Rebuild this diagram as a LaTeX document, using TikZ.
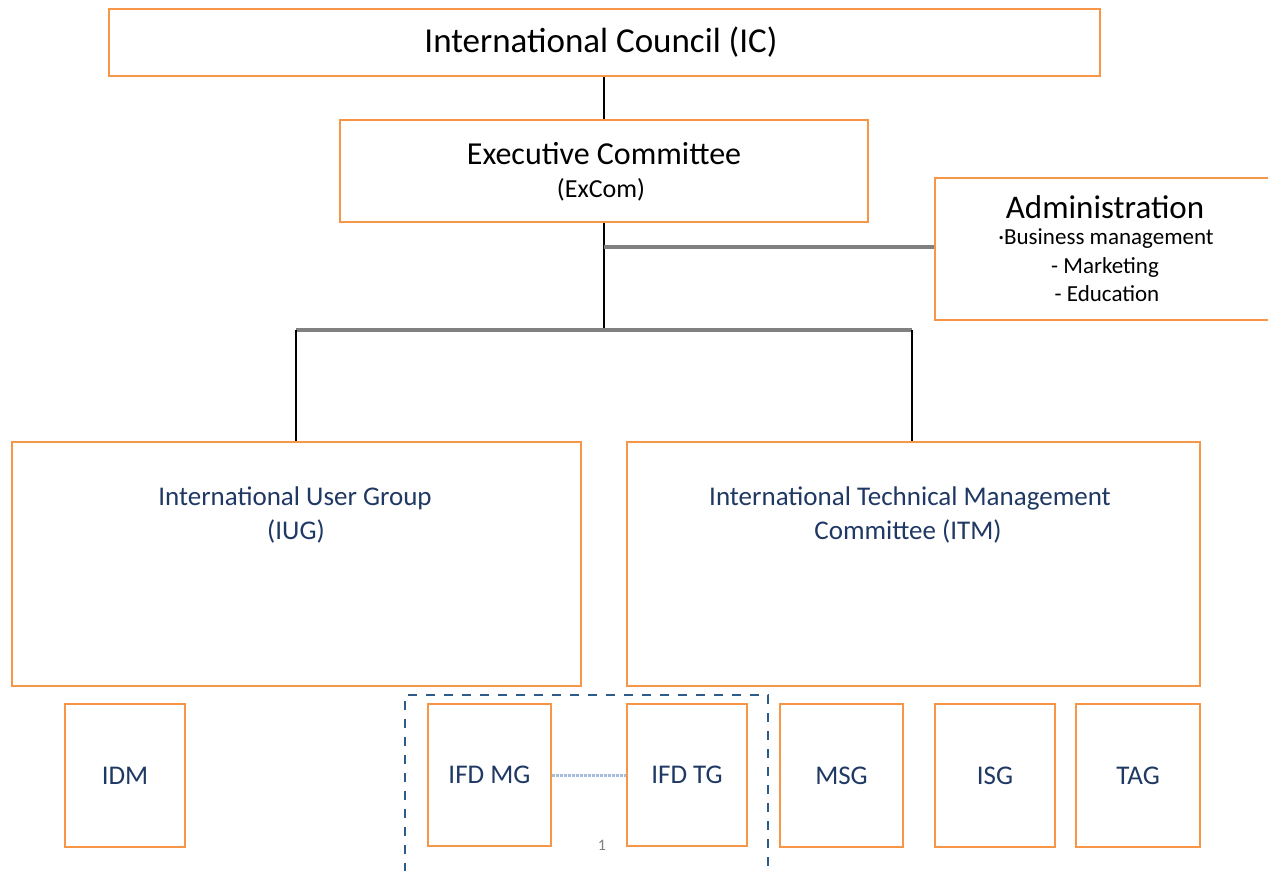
\documentclass[tikz,border=0pt]{standalone}
\usepackage{fontspec}
\setmainfont{Carlito}
\definecolor{orng}{HTML}{F79646}
\definecolor{navy}{HTML}{1F3864}
\definecolor{dashblue}{HTML}{2E5C8A}
\definecolor{dotblue}{HTML}{A6BDDB}
\begin{document}
\begin{tikzpicture}[x=1pt,y=-1pt,
  box/.style={draw=orng,line width=2.5pt,fill=white},
  blk/.style={draw=black,line width=2.5pt},
  gry/.style={draw=gray,line width=4.5pt},
  lbl/.style={align=center,inner sep=0pt},
  small/.style={box,font=\fontsize{27}{30}\selectfont,text=navy}]
\useasboundingbox (0,0) rectangle (1268,870);
\begin{scope}
\clip (0,0) rectangle (1268,870);
% connectors
\coordinate (ja) at (604,247);
\coordinate (jb) at (604,330);
\coordinate (jl) at (296,330);
\coordinate (jr) at (912,330);
\draw[blk] (604,76) -- (604,120);
\draw[blk] (604,222) -- (jb);
\draw[gry] (ja) -- (936,247);
\draw[gry] (jl) -- (jr);
\draw[blk] (jl) -- (296,442);
\draw[blk] (jr) -- (912,442);
% boxes
\draw[box] (109,9) rectangle (1100,76);
\node[lbl,font=\fontsize{35}{38}\selectfont] (ic) at (601,42) {International Council (IC)};
\draw[box] (340,120) rectangle (868,222);
\node[lbl,font=\fontsize{32}{36}\selectfont] (ex1) at (604,154) {Executive Committee};
\node[lbl,font=\fontsize{26}{30}\selectfont] (ex2) at (601,190) {(ExCom)};
\draw[box] (935,178) rectangle (1275,320);
\node[lbl,font=\fontsize{33}{36}\selectfont] (ad) at (1105,207) {Administration};
\node[lbl,font=\fontsize{23}{26}\selectfont] (ad1) at (1106,239) {·Business management};
\node[lbl,font=\fontsize{23}{26}\selectfont] (ad2) at (1105,267) {- Marketing};
\node[lbl,font=\fontsize{23}{26}\selectfont] (ad3) at (1107,294) {- Education};
\draw[box] (12,442) rectangle (581,686);
\node[lbl,font=\fontsize{27}{30}\selectfont,text=navy] (iug1) at (295,498) {International User Group};
\node[lbl,font=\fontsize{27}{30}\selectfont,text=navy] (iug2) at (296,531) {(IUG)};
\draw[box] (627,442) rectangle (1200,686);
\node[lbl,font=\fontsize{27}{30}\selectfont,text=navy] (itm1) at (910,498) {International Technical Management};
\node[lbl,font=\fontsize{27}{30}\selectfont,text=navy] (itm2) at (908,531) {Committee (ITM)};
% dashed group
\draw[dashblue,line width=2pt,dash pattern=on 9pt off 9pt] (405,890) -- (405,695) -- (768,695) -- (768,890);
% bottom boxes
\node[small,minimum width=120pt,minimum height=143pt] (idm) at (125,775.5) {IDM};
\node[small,minimum width=123pt,minimum height=142pt] (mg) at (489.5,775) {IFD MG};
\node[small,minimum width=120pt,minimum height=142pt] (tg) at (687,775) {IFD TG};
\node[small,minimum width=123pt,minimum height=143pt] (msg) at (841.5,775.5) {MSG};
\node[small,minimum width=120pt,minimum height=143pt] (isg) at (995,775.5) {ISG};
\node[small,minimum width=124pt,minimum height=143pt] (tag) at (1138,775.5) {TAG};
\draw[dotblue,line width=3pt,dash pattern=on 3pt off 1pt] (mg.east) -- (tg.west);
\node[lbl,font=\fontsize{16}{18}\selectfont,text=gray] (one) at (602,845) {1};
\end{scope}
\end{tikzpicture}
\end{document}
